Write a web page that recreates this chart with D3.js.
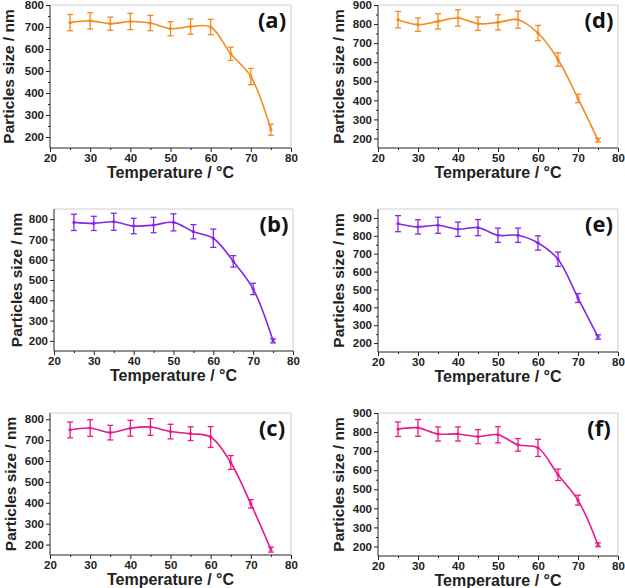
<!DOCTYPE html>
<html><head><meta charset="utf-8">
<script src="https://cdn.jsdelivr.net/npm/d3@7"></script>
<style>body{margin:0;background:#fff}svg{display:block}</style>
</head><body>
<svg id="chart" width="625" height="588"></svg>
<script>
const temps = [25,30,35,40,45,50,55,60,65,70,75];
const xTicks = [20,30,40,50,60,70,80];

const sizeA = [720,728,715,725,718,692,702,700,578,475,233];
const errA  = [37,37,30,37,35,32,35,35,30,37,25];
const sizeB = [784,779,787,766,771,784,738,706,592,456,200];
const errB  = [40,35,42,38,38,42,35,45,28,28,10];
const sizeC = [749,758,736,757,763,741,731,715,593,395,176];
const errC  = [38,40,35,38,40,35,33,50,33,20,12];
const sizeD = [823,797,814,832,802,809,823,753,614,410,191];
const errD  = [43,35,40,43,35,40,45,40,35,22,10];
const sizeE = [868,850,859,837,846,803,803,760,669,452,234];
const errE  = [45,40,45,40,45,40,40,40,40,25,12];
const sizeF = [815,822,790,790,776,786,733,717,576,443,209];
const errF  = [38,44,37,37,37,42,33,45,30,26,10];

const yTicksA = [200,300,400,500,600,700,800];
const yTicks9 = [200,300,400,500,600,700,800,900];

const orange = "#F28A1E", purple = "#8526E6", pink = "#E8198B";

const panels = [
  {label:"(a)", v:sizeA, e:errA, color:orange, x0:50,  x1:291, top:5,   bot:148, dom:[150,800], ticks:yTicksA, ytx:8},
  {label:"(d)", v:sizeD, e:errD, color:orange, x0:378, x1:618, top:5,   bot:148, dom:[150,900], ticks:yTicks9, ytx:338},
  {label:"(b)", v:sizeB, e:errB, color:purple, x0:54,  x1:293, top:209, bot:351, dom:[150,850], ticks:yTicksA, ytx:16},
  {label:"(e)", v:sizeE, e:errE, color:purple, x0:378, x1:618, top:209, bot:352, dom:[150,950], ticks:yTicks9, ytx:338},
  {label:"(c)", v:sizeC, e:errC, color:pink,   x0:50,  x1:291, top:413, bot:555, dom:[150,830], ticks:yTicksA, ytx:10},
  {label:"(f)", v:sizeF, e:errF, color:pink,   x0:378, x1:618, top:413, bot:556, dom:[150,900], ticks:yTicks9, ytx:338}
];

const svg = d3.select("#chart");
const font = "'Liberation Sans', Arial, sans-serif";

panels.forEach(p => {
  const x = d3.scaleLinear().domain([20,80]).range([p.x0, p.x1]);
  const y = d3.scaleLinear().domain(p.dom).range([p.bot, p.top]);
  const g = svg.append("g");

  // frame (top/right light)
  g.append("line").attr("x1",p.x0).attr("x2",p.x1).attr("y1",p.top).attr("y2",p.top).attr("stroke","#cfcfcf").attr("stroke-width",1);
  g.append("line").attr("x1",p.x1).attr("x2",p.x1).attr("y1",p.top).attr("y2",p.bot).attr("stroke","#cfcfcf").attr("stroke-width",1);

  // x axis
  const xa = g.append("g").attr("transform",`translate(0,${p.bot})`)
    .call(d3.axisBottom(x).tickValues(xTicks).tickSize(4).tickPadding(2).tickFormat(d3.format("d")));
  const xm = g.append("g").attr("transform",`translate(0,${p.bot})`)
    .call(d3.axisBottom(x).tickValues(d3.range(25,80,10)).tickSize(2).tickFormat(""));
  xm.select(".domain").remove();
  // y axis
  const ya = g.append("g").attr("transform",`translate(${p.x0},0)`)
    .call(d3.axisLeft(y).tickValues(p.ticks).tickSize(4).tickPadding(2).tickFormat(d3.format("d")));
  const ym = g.append("g").attr("transform",`translate(${p.x0},0)`)
    .call(d3.axisLeft(y).tickValues(p.ticks.map(t=>t+50).filter(t=>t<p.dom[1]).concat([150]).filter(t=>t>p.dom[0])).tickSize(2).tickFormat(""));
  ym.select(".domain").remove();
  [xa,ya,xm,ym].forEach(a=>{
    a.selectAll("path,line").attr("stroke","#222").attr("stroke-width",1);
    a.selectAll("text").attr("font-family",font).attr("font-weight","bold").attr("font-size",11.5).attr("fill","#222");
  });
  xa.select(".domain").attr("d",`M${p.x0},0H${p.x1}`);
  ya.select(".domain").attr("d",`M0,${p.bot}V${p.top}`);

  // axis titles
  g.append("text").attr("x",(p.x0+p.x1)/2).attr("y",p.bot+30)
    .attr("text-anchor","middle").attr("font-family",font).attr("font-weight","bold").attr("font-size",16).attr("fill","#222")
    .text("Temperature / \u00B0C");
  g.append("text").attr("transform",`translate(${p.ytx},${(p.top+p.bot)/2}) rotate(-90)`)
    .attr("text-anchor","middle").attr("dominant-baseline","central").attr("font-family",font).attr("font-weight","bold").attr("font-size",15.5).attr("fill","#222")
    .text("Particles size / nm");

  // panel label
  g.append("text").attr("x",p.x1-19).attr("y",p.top+14).attr("text-anchor","middle").attr("dominant-baseline","central")
    .attr("font-family","'Open Sans', sans-serif").attr("font-weight","bold").attr("font-size",22).attr("fill","#111")
    .text(p.label);

  const data = temps.map((t,i)=>({t, v:p.v[i], e:p.e[i]}));

  // line
  g.append("path").datum(data)
    .attr("d", d3.line().x(d=>x(d.t)).y(d=>y(d.v)).curve(d3.curveCatmullRom.alpha(0.5)))
    .attr("fill","none").attr("stroke",p.color).attr("stroke-width",1.6);

  // error bars
  const eb = g.append("g").selectAll("g").data(data).join("g").attr("stroke",p.color).attr("stroke-width",1.3);
  eb.append("line").attr("x1",d=>x(d.t)).attr("x2",d=>x(d.t)).attr("y1",d=>y(d.v+d.e)).attr("y2",d=>y(d.v-d.e));
  eb.append("line").attr("x1",d=>x(d.t)-3).attr("x2",d=>x(d.t)+3).attr("y1",d=>y(d.v+d.e)).attr("y2",d=>y(d.v+d.e));
  eb.append("line").attr("x1",d=>x(d.t)-3).attr("x2",d=>x(d.t)+3).attr("y1",d=>y(d.v-d.e)).attr("y2",d=>y(d.v-d.e));
  eb.append("line").attr("x1",d=>x(d.t)-1.5).attr("x2",d=>x(d.t)+1.5).attr("y1",d=>y(d.v)).attr("y2",d=>y(d.v)).attr("stroke-width",2.5);
});
</script>
</body></html>
